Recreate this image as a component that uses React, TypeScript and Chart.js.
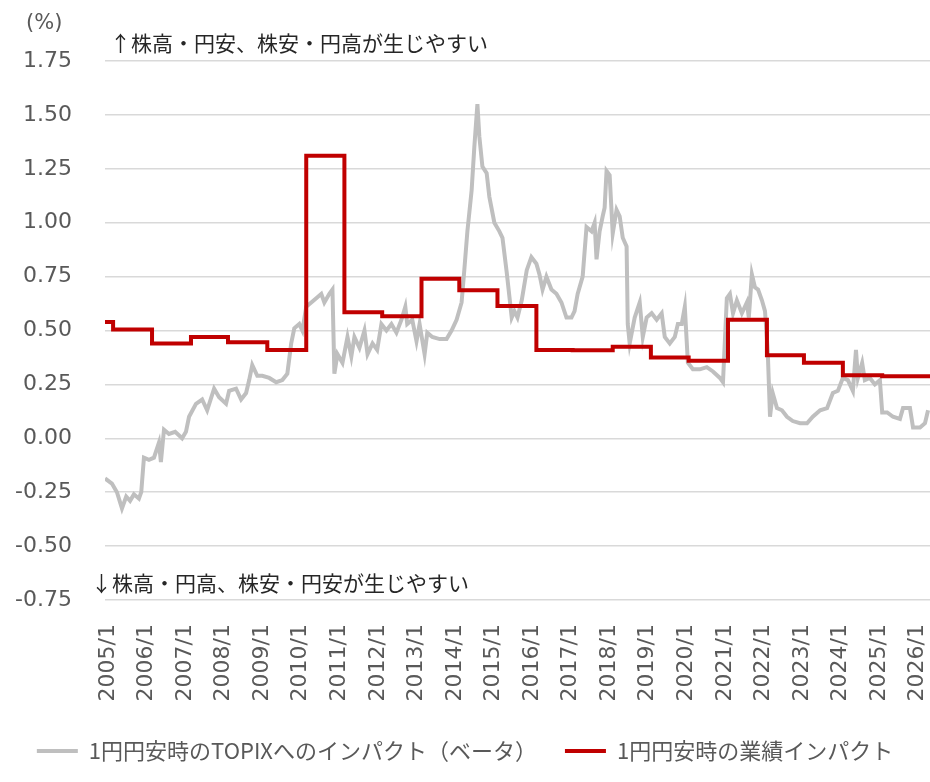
import React, { useEffect, useRef } from "react";
import { Chart, registerables } from "chart.js";

Chart.register(...registerables);

// ---- data ----
const yearTicks = [2005, 2006, 2007, 2008, 2009, 2010, 2011, 2012, 2013, 2014, 2015, 2016, 2017, 2018, 2019, 2020, 2021, 2022, 2023, 2024, 2025, 2026];
const xMin = 2005;
const xMax = 2026.4;
const yMin = -0.75;
const yMax = 1.75;
const yStep = 0.25;

const betaLabel = "1円円安時のTOPIXへのインパクト（ベータ）";
const profitLabel = "1円円安時の業績インパクト";
const noteUp = "↑株高・円安、株安・円高が生じやすい";
const noteDown = "↓株高・円高、株安・円安が生じやすい";
const unitLabel = "(%)";

const betaYears = [
  2005.00, 2005.18, 2005.31, 2005.44, 2005.55, 2005.65, 2005.75, 2005.88, 2005.94,
  2006.01, 2006.14, 2006.27, 2006.40, 2006.45, 2006.53, 2006.66, 2006.82,
  2007.00, 2007.10, 2007.18, 2007.36, 2007.52, 2007.65, 2007.83, 2007.96,
  2008.14, 2008.22, 2008.40, 2008.53, 2008.66, 2008.74, 2008.82, 2008.95,
  2009.08, 2009.26, 2009.44, 2009.60, 2009.73, 2009.83, 2009.91,
  2010.04, 2010.12, 2010.22, 2010.35, 2010.48, 2010.61, 2010.69, 2010.82, 2010.90, 2010.95,
  2011.03, 2011.16, 2011.29, 2011.39, 2011.47, 2011.60, 2011.73, 2011.81, 2011.94,
  2012.06, 2012.17, 2012.30, 2012.43, 2012.56, 2012.69, 2012.79, 2012.84, 2012.97,
  2013.08, 2013.16, 2013.29, 2013.36, 2013.49, 2013.68, 2013.86, 2013.99,
  2014.12, 2014.25, 2014.32, 2014.40, 2014.51, 2014.58, 2014.66, 2014.71, 2014.79, 2014.90, 2014.97,
  2015.10, 2015.23, 2015.31, 2015.42, 2015.55, 2015.62, 2015.70, 2015.81, 2015.94,
  2016.06, 2016.19, 2016.27, 2016.35, 2016.45, 2016.58, 2016.71, 2016.84, 2016.97,
  2017.10, 2017.18, 2017.26, 2017.39, 2017.49, 2017.62, 2017.70, 2017.75, 2017.83, 2017.91, 2017.96,
  2018.01, 2018.09, 2018.17, 2018.27, 2018.35, 2018.43, 2018.53, 2018.56, 2018.61, 2018.74, 2018.87, 2018.95,
  2019.05, 2019.18, 2019.31, 2019.44, 2019.52, 2019.65, 2019.78, 2019.86, 2019.96,
  2020.04, 2020.12, 2020.25, 2020.43, 2020.61, 2020.77, 2020.95,
  2021.03, 2021.13, 2021.21, 2021.29, 2021.39, 2021.52, 2021.65, 2021.70, 2021.78, 2021.86, 2021.94,
  2022.04, 2022.12, 2022.19, 2022.25, 2022.32, 2022.43, 2022.56, 2022.69, 2022.84,
  2023.03, 2023.21, 2023.36, 2023.55, 2023.73, 2023.88,
  2024.01, 2024.14, 2024.27, 2024.40, 2024.48, 2024.53, 2024.64, 2024.71, 2024.84, 2024.97,
  2025.10, 2025.16, 2025.29, 2025.44, 2025.62, 2025.70, 2025.88, 2025.96,
  2026.14, 2026.27, 2026.35,
];
const betaValues = [
  -0.186, -0.21, -0.25, -0.325, -0.27, -0.29, -0.26, -0.28, -0.25,
  -0.09, -0.10, -0.09, -0.02, -0.11, 0.04, 0.02, 0.03,
  0.00, 0.03, 0.10, 0.16, 0.18, 0.13, 0.23, 0.19,
  0.16, 0.22, 0.23, 0.18, 0.21, 0.27, 0.34, 0.29,
  0.29, 0.28, 0.26, 0.27, 0.30, 0.44, 0.51,
  0.53, 0.50, 0.61, 0.63, 0.65, 0.67, 0.63, 0.67, 0.69, 0.30,
  0.39, 0.35, 0.47, 0.38, 0.47, 0.42, 0.50, 0.39, 0.44,
  0.41, 0.53, 0.50, 0.53, 0.49, 0.55, 0.61, 0.53, 0.55,
  0.45, 0.53, 0.39, 0.49, 0.47, 0.46, 0.46, 0.50,
  0.55, 0.63, 0.78, 0.96, 1.15, 1.35, 1.55, 1.40, 1.26, 1.23, 1.12,
  1.00, 0.96, 0.93, 0.77, 0.56, 0.59, 0.56, 0.64, 0.78,
  0.84, 0.81, 0.76, 0.69, 0.75, 0.69, 0.67, 0.63, 0.56,
  0.56, 0.59, 0.67, 0.75, 0.98, 0.96, 1.00, 0.83, 0.96, 1.03, 1.07,
  1.24, 1.22, 0.95, 1.06, 1.03, 0.93, 0.89, 0.53, 0.44, 0.56, 0.63, 0.47,
  0.56, 0.58, 0.55, 0.58, 0.47, 0.44, 0.47, 0.53, 0.53,
  0.61, 0.35, 0.32, 0.32, 0.33, 0.31, 0.28,
  0.26, 0.65, 0.67, 0.58, 0.64, 0.58, 0.63, 0.56, 0.76, 0.70, 0.69,
  0.64, 0.59, 0.41, 0.10, 0.21, 0.14, 0.13, 0.10, 0.08,
  0.07, 0.07, 0.10, 0.13, 0.14, 0.21,
  0.22, 0.28, 0.27, 0.22, 0.41, 0.28, 0.35, 0.27, 0.28, 0.25,
  0.27, 0.12, 0.12, 0.10, 0.09, 0.14, 0.14, 0.05,
  0.05, 0.07, 0.13,
];

const profitYears = [2005.00, 2005.21, 2006.22, 2007.23, 2008.19, 2009.21, 2010.22, 2011.21, 2012.19, 2013.21, 2014.19, 2015.18, 2016.19, 2017.13, 2018.17, 2019.16, 2020.14, 2021.16, 2022.17, 2023.13, 2024.14, 2025.16, 2026.40];
const profitValues = [0.54, 0.505, 0.44, 0.47, 0.445, 0.41, 1.31, 0.585, 0.566, 0.74, 0.687, 0.614, 0.41, 0.408, 0.425, 0.375, 0.36, 0.55, 0.385, 0.35, 0.292, 0.288, 0.288];

const GRAY = "#BFBFBF";
const RED = "#C00000";
const TEXT = "#595959";
const JP = "'Noto Sans CJK JP', 'Noto Sans', sans-serif";
const NUM = "'DejaVu Sans', Verdana, sans-serif";

export default function App() {
  const ref = useRef<HTMLCanvasElement | null>(null);

  useEffect(() => {
    if (!ref.current) return;
    const chart = new Chart(ref.current, {
      type: "line",
      data: {
        datasets: [
          {
            label: betaLabel,
            data: betaYears.map((x, i) => ({ x, y: betaValues[i] })),
            borderColor: GRAY,
            backgroundColor: GRAY,
            borderWidth: 4,
            pointRadius: 0,
            tension: 0,
            order: 1,
          },
          {
            label: profitLabel,
            data: profitYears.map((x, i) => ({ x, y: profitValues[i] })),
            borderColor: RED,
            backgroundColor: RED,
            borderWidth: 4,
            pointRadius: 0,
            stepped: "before",
            order: 0,
          },
        ],
      },
      options: {
        animation: false,
        responsive: false,
        maintainAspectRatio: false,
        layout: { padding: { top: 61, left: 0, right: 0, bottom: 10 } },
        scales: {
          x: {
            type: "linear",
            min: xMin,
            max: xMax,
            afterBuildTicks: (scale: any) => {
              scale.ticks = yearTicks.map((v) => ({ value: v }));
            },
            afterFit: (scale: any) => {
              scale.height = 112;
              scale.paddingLeft = 0;
              scale.paddingRight = 0;
            },
            grid: { display: false },
            border: { display: false },
            ticks: {
              minRotation: 90,
              maxRotation: 90,
              autoSkip: false,
              padding: 16,
              labelOffset: 3,
              color: TEXT,
              font: { family: NUM, size: 22 },
              callback: (v: any) => `${v}/1`,
            },
          },
          y: {
            min: yMin,
            max: yMax,
            afterFit: (scale: any) => {
              scale.width = 105;
            },
            grid: { color: "#D9D9D9", lineWidth: 1.5, drawTicks: false },
            border: { display: false },
            ticks: {
              stepSize: yStep,
              padding: 33,
              color: TEXT,
              font: { family: NUM, size: 22 },
              callback: (v: any) => Number(v).toFixed(2),
            },
          },
        },
        plugins: {
          tooltip: { enabled: false },
          legend: {
            position: "bottom",
            labels: {
              boxWidth: 41,
              boxHeight: 4,
              padding: 28,
              color: TEXT,
              font: { family: JP, size: 22 },
              sort: (a: any, b: any) => a.datasetIndex - b.datasetIndex,
              generateLabels: (c: any) =>
                Chart.defaults.plugins.legend.labels
                  .generateLabels(c)
                  .map((l: any) => ({ ...l, lineWidth: 0 })),
            },
          },
        },
      },
    });
    return () => chart.destroy();
  }, []);

  const note: React.CSSProperties = {
    position: "absolute",
    fontFamily: JP,
    fontSize: 21,
    lineHeight: "21px",
    color: "#262626",
    whiteSpace: "nowrap",
  };

  return (
    <div style={{ position: "absolute", left: 0, top: 0, width: 930, height: 782, background: "#fff" }}>
      <canvas ref={ref} width={930} height={782} style={{ position: "absolute", left: 0, top: 0, width: 930, height: 782 }} />
      <div style={{ ...note, left: 26, top: 12, fontFamily: NUM, fontSize: 21, color: TEXT }}>{unitLabel}</div>
      <div style={{ ...note, left: 110, top: 32 }}>{noteUp}</div>
      <div style={{ ...note, left: 91, top: 572 }}>{noteDown}</div>
    </div>
  );
}
